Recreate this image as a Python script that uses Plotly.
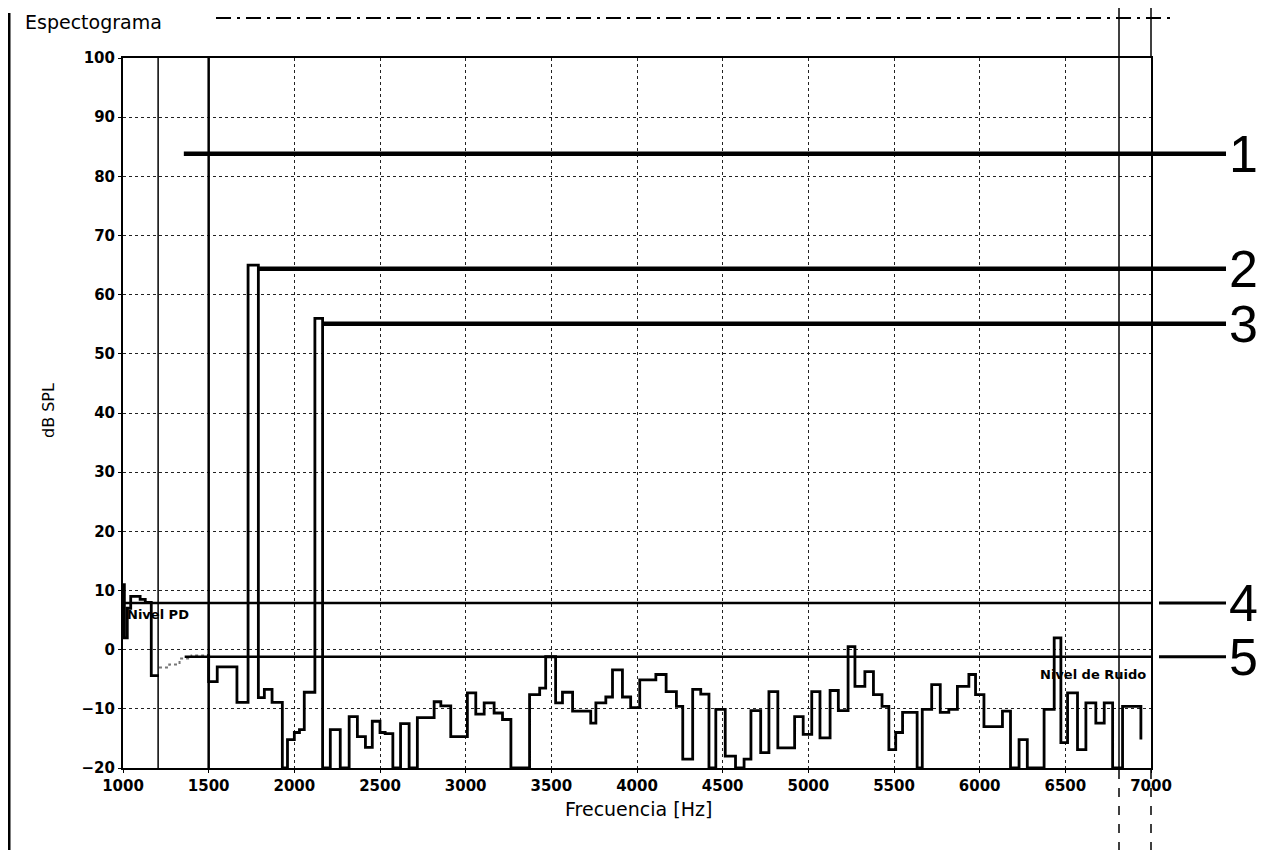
import plotly.graph_objects as go

# ---------------- data ----------------
# spectrum (step line, value starts at given frequency)
freq_hz = [1000, 1008, 1025, 1045, 1100, 1130, 1165, 1210]
level_db = [11, 2, 7, 9, 8.5, 8, -4.4, -4.4]

faint_hz = [1210, 1270, 1330, 1400, 1500]
faint_db = [-3.0, -2.5, -1.5, -1.0, -1.0]

freq2_hz = [1490, 1500, 1550, 1665, 1730, 1790, 1825, 1870, 1930, 1960, 2000, 2030,
            2058, 2120, 2165, 2210, 2268, 2320, 2368, 2415, 2455, 2500, 2530, 2575,
            2620, 2670, 2718, 2816, 2855, 2913, 3010, 3059, 3108, 3166, 3215, 3264,
            3373, 3432, 3467, 3525, 3565, 3624, 3730, 3760, 3818, 3857, 3915, 3963,
            4016, 4110, 4170, 4230, 4267, 4325, 4372, 4420, 4460, 4515, 4575, 4625,
            4665, 4722, 4770, 4822, 4920, 4970, 5020, 5068, 5127, 5175, 5232, 5272,
            5330, 5380, 5430, 5470, 5510, 5550, 5635, 5665, 5720, 5770, 5820, 5870,
            5937, 5976, 6025, 6133, 6180, 6230, 6278, 6376, 6435, 6474, 6513, 6571,
            6620, 6678, 6727, 6776, 6834, 6941]
level2_db = [-1.0, -5.4, -2.9, -8.9, 65, -8.1, -6.7, -8.9, -20, -15.2, -14, -13.5,
             -7.2, 56, -20, -13.5, -20, -11.3, -14.7, -16.5, -12.1, -14, -14.2, -20,
             -12.5, -20, -11.5, -8.8, -9.5, -14.7, -7.3, -10.9, -9, -10.7, -11.8, -20,
             -7.6, -6.5, -1.2, -9, -7.2, -10.4, -12.4, -9, -8, -3.4, -8, -9.8,
             -5.1, -4.2, -7.1, -9.6, -18.5, -6.7, -7.5, -20, -10.1, -18, -20, -18.5,
             -10.3, -17.4, -7.1, -16.6, -11.3, -14.3, -7.1, -14.9, -6.9, -10.3, 0.5, -6.2,
             -3.7, -7.6, -9.6, -16.9, -14, -10.6, -20, -10.1, -5.9, -10.6, -10.1, -6.2,
             -4.2, -7.6, -13, -10.4, -20, -15.2, -20, -10.1, 2, -15.7, -7.3, -16.9,
             -9, -12.4, -9, -20, -9.6, -15.2]

x_ticks = [1000, 1500, 2000, 2500, 3000, 3500, 4000, 4500, 5000, 5500, 6000, 6500, 7000]
x_tick_labels = ["1000", "1500", "2000", "2500", "3000", "3500", "4000", "4500",
                 "5000", "5500", "6000", "6500", "7000"]
y_ticks = [-20, -10, 0, 10, 20, 30, 40, 50, 60, 70, 80, 90, 100]

marker_labels = ["1", "2", "3", "4", "5"]
marker_db = [83.8, 64.4, 55.1, 7.9, -1.2]
marker_start_hz = [1355, 1790, 2165, 1000, 1360]
marker_width = [4.5, 4.5, 4.5, 2.5, 2.5]

ref_vertical_hz = [1205, 1500]
ref_vertical_width = [1.5, 2.5]

X_MIN, X_MAX = 1000, 7000
Y_MIN, Y_MAX = -20, 100

# ---------------- figure ----------------
fig = go.Figure()

fig.add_trace(go.Scatter(x=freq_hz, y=level_db, mode="lines", line_shape="hv",
                         line=dict(color="black", width=2.8), showlegend=False))
fig.add_trace(go.Scatter(x=faint_hz, y=faint_db, mode="lines", line_shape="hv",
                         line=dict(color="#777777", width=2, dash="dot"), showlegend=False))
fig.add_trace(go.Scatter(x=freq2_hz, y=level2_db, mode="lines", line_shape="hv",
                         line=dict(color="black", width=2.8), showlegend=False))

# page offset of the figure inside the browser window
OFF = 7
W, H = 1274, 850
PX0, PX1, PY0, PY1 = 122, 1150, 57, 767          # plot area in screenshot pixels
L, T = PX0 - OFF, PY0 - OFF
R, B = W - (PX1 - OFF), H - (PY1 - OFF)
pw, ph = PX1 - PX0, PY1 - PY0


def px_to_paper_x(px):
    return (px - PX0) / pw


def py_to_paper_y(py):
    return (PY1 - py) / ph


def hz_to_paper(f):
    return (f - X_MIN) / (X_MAX - X_MIN)


shapes = []
x_label_end = px_to_paper_x(1225)
for lab, v, f0, w in zip(marker_labels, marker_db, marker_start_hz, marker_width):
    if lab in ("1", "2", "3"):
        shapes.append(dict(type="line", xref="paper", yref="y", x0=hz_to_paper(f0),
                           x1=x_label_end, y0=v, y1=v, line=dict(color="black", width=w)))
    else:
        shapes.append(dict(type="line", xref="x", yref="y", x0=f0, x1=X_MAX, y0=v, y1=v,
                           line=dict(color="black", width=w)))
        shapes.append(dict(type="line", xref="paper", yref="y", x0=px_to_paper_x(1158),
                           x1=x_label_end, y0=v, y1=v, line=dict(color="black", width=3)))

for f, w in zip(ref_vertical_hz, ref_vertical_width):
    shapes.append(dict(type="line", xref="x", yref="y", x0=f, x1=f, y0=Y_MIN, y1=Y_MAX,
                       line=dict(color="black", width=w)))

# scan / document frame decorations
shapes.append(dict(type="line", xref="paper", yref="paper", x0=px_to_paper_x(8), x1=px_to_paper_x(8),
                   y0=py_to_paper_y(850), y1=py_to_paper_y(12), line=dict(color="black", width=3)))
shapes.append(dict(type="line", xref="paper", yref="paper", x0=px_to_paper_x(1118), x1=px_to_paper_x(1118),
                   y0=py_to_paper_y(767), y1=py_to_paper_y(0), line=dict(color="black", width=1.5)))
shapes.append(dict(type="line", xref="paper", yref="paper", x0=px_to_paper_x(1118), x1=px_to_paper_x(1118),
                   y0=py_to_paper_y(850), y1=py_to_paper_y(767), line=dict(color="black", width=1.5, dash="dash")))
shapes.append(dict(type="line", xref="paper", yref="paper", x0=1, x1=1,
                   y0=1, y1=py_to_paper_y(0), line=dict(color="black", width=1.5)))
shapes.append(dict(type="line", xref="paper", yref="paper", x0=1, x1=1,
                   y0=py_to_paper_y(850), y1=0, line=dict(color="black", width=1.5, dash="dash")))
shapes.append(dict(type="line", xref="paper", yref="paper", x0=px_to_paper_x(215), x1=px_to_paper_x(1170),
                   y0=py_to_paper_y(17), y1=py_to_paper_y(17),
                   line=dict(color="black", width=2, dash="longdashdot")))

annotations = []
for lab, v in zip(marker_labels, marker_db):
    annotations.append(dict(text=lab, xref="paper", yref="y", x=px_to_paper_x(1226), y=v,
                            xanchor="left", yanchor="middle", showarrow=False,
                            font=dict(family="Liberation Sans", size=52, color="black")))

annotations.append(dict(text="Espectograma", xref="paper", yref="paper",
                        x=px_to_paper_x(22), y=py_to_paper_y(21), xanchor="left", yanchor="middle",
                        showarrow=False, font=dict(family="DejaVu Sans", size=19, color="black")))
annotations.append(dict(text="dB SPL", xref="paper", yref="paper", textangle=-90,
                        x=px_to_paper_x(47), y=py_to_paper_y(410), xanchor="center", yanchor="middle",
                        showarrow=False, font=dict(family="DejaVu Sans", size=16, color="black")))
annotations.append(dict(text="Frecuencia [Hz]", xref="paper", yref="paper",
                        x=px_to_paper_x(637), y=py_to_paper_y(808), xanchor="center", yanchor="middle",
                        showarrow=False, font=dict(family="DejaVu Sans", size=19, color="black")))
annotations.append(dict(text="Nivel PD", xref="x", yref="y", x=1010, y=6,
                        xanchor="left", yanchor="middle", showarrow=False,
                        font=dict(family="DejaVu Sans", size=13, color="black", weight="bold")))
annotations.append(dict(text="Nivel de Ruido", xref="x", yref="y", x=6985, y=-4.2,
                        xanchor="right", yanchor="middle", showarrow=False,
                        font=dict(family="DejaVu Sans", size=13, color="black", weight="bold")))

axis_common = dict(showgrid=True, gridcolor="#222222", gridwidth=1.3, griddash="3px,3px",
                   showline=True, linecolor="black", linewidth=2, mirror=True,
                   zeroline=False, ticks="outside", ticklen=3, tickcolor="black",
                   tickfont=dict(family="DejaVu Sans", size=15, color="black", weight="bold"))

fig.update_xaxes(range=[X_MIN, X_MAX], tickvals=x_ticks, ticktext=x_tick_labels, **axis_common)
fig.update_yaxes(range=[Y_MIN, Y_MAX], tickvals=y_ticks, **axis_common)

fig.update_layout(width=W, height=H, margin=dict(l=L, r=R, t=T, b=B, autoexpand=False),
                  paper_bgcolor="white", plot_bgcolor="white",
                  shapes=shapes, annotations=annotations, showlegend=False)

fig.write_html("out.html")
